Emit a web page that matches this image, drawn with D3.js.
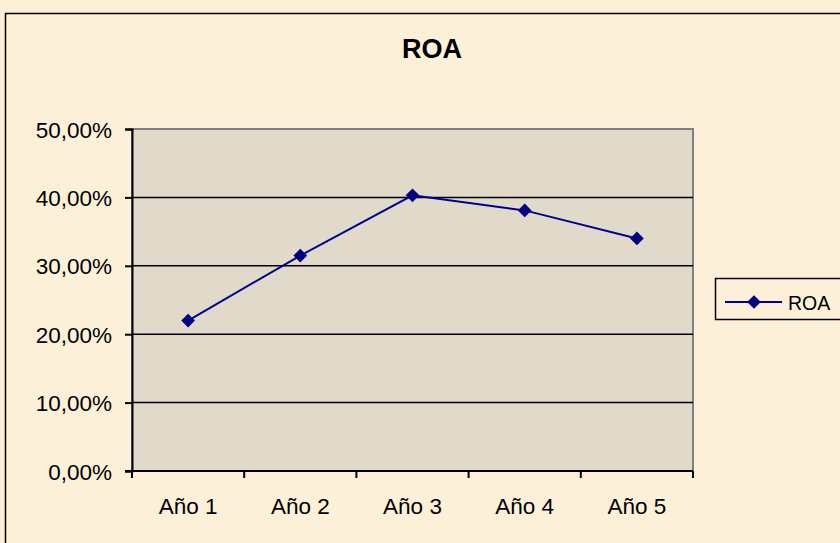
<!DOCTYPE html>
<html><head><meta charset="utf-8">
<script src="https://cdn.jsdelivr.net/npm/d3@7"></script>
<style>html,body{margin:0;padding:0;background:#FBEFD6;overflow:hidden}</style>
</head><body>
<svg id="c" width="840" height="543"></svg>
<script>
const categories = ["Año 1","Año 2","Año 3","Año 4","Año 5"];
const roaValues = [0.22, 0.315, 0.403, 0.381, 0.34];
const yTicks = [0, 0.1, 0.2, 0.3, 0.4, 0.5];
const seriesName = "ROA";
const titleText = "ROA";

const FONT = "Liberation Sans, Arial, sans-serif";
const svg = d3.select("#c");
const W = 840, H = 543;
svg.append("rect").attr("width",W).attr("height",H).attr("fill","#FBEFD6");
// chart area border
svg.append("rect").attr("x",5.5).attr("y",13.5).attr("width",900).attr("height",600)
  .attr("fill","#FCF0D8").attr("stroke","#000").attr("stroke-width",1.5);

const m = {l:132, t:129, r:693, b:471};
const x = d3.scaleBand().domain(categories).range([m.l, m.r]);
const y = d3.scaleLinear().domain([0,0.5]).range([m.b, m.t]);

// plot area
svg.append("rect").attr("x",m.l).attr("y",m.t).attr("width",m.r-m.l).attr("height",m.b-m.t)
  .attr("fill","#E1DACB").attr("stroke","#808080").attr("stroke-width",2);

// gridlines
svg.append("g").selectAll("line").data(yTicks.filter(d=>d>0 && d<0.5)).join("line")
  .attr("x1",m.l).attr("x2",m.r).attr("y1",d=>y(d)).attr("y2",d=>y(d))
  .attr("stroke","#000").attr("stroke-width",1.5);

const loc = d3.formatLocale({decimal:",", thousands:".", grouping:[3], currency:["","€"]});
const fmt = loc.format(".2%");

const yAxis = d3.axisLeft(y).tickValues(yTicks).tickFormat(fmt).tickSize(7).tickPadding(13);
const gy = svg.append("g").attr("transform",`translate(${m.l},0)`).call(yAxis);
gy.select(".domain").attr("stroke","#000").attr("stroke-width",2);
gy.selectAll(".tick line").attr("stroke","#000").attr("stroke-width",2);
gy.selectAll("text").attr("font-family",FONT).attr("font-size",22.5).attr("fill","#000").attr("dy","0.36em");

// x axis with ticks at band boundaries
const gx = svg.append("g").attr("transform",`translate(0,${m.b})`);
gx.append("line").attr("x1",m.l-7).attr("x2",m.r).attr("stroke","#000").attr("stroke-width",2);
const bounds = categories.map(c=>x(c)).concat([m.r]);
gx.selectAll("line.t").data(bounds).join("line").attr("class","t")
  .attr("x1",d=>d).attr("x2",d=>d).attr("y1",0).attr("y2",7).attr("stroke","#000").attr("stroke-width",2);
gx.selectAll("text").data(categories).join("text")
  .attr("x",d=>x(d)+x.bandwidth()/2).attr("y",43).attr("text-anchor","middle")
  .attr("font-family",FONT).attr("font-size",22.5).attr("fill","#000").text(d=>d);

// line
const pts = categories.map((c,i)=>[x(c)+x.bandwidth()/2, y(roaValues[i])]);
svg.append("path").attr("d",d3.line()(pts)).attr("fill","none").attr("stroke","#000090").attr("stroke-width",2);
const diamond = d3.symbol().type(d3.symbolDiamond2).size(120);
svg.append("g").selectAll("path").data(pts).join("path")
  .attr("transform",d=>`translate(${d[0]},${d[1]})`).attr("d",diamond).attr("fill","#000080");

// title
svg.append("text").attr("x",432).attr("y",58).attr("text-anchor","middle")
  .attr("font-family",FONT).attr("font-weight","bold").attr("font-size",27).text(titleText);

// legend
const lg = svg.append("g");
lg.append("rect").attr("x",715.5).attr("y",278.5).attr("width",140).attr("height",41)
  .attr("fill","#FCF0D8").attr("stroke","#000").attr("stroke-width",1.5);
lg.append("line").attr("x1",725).attr("x2",782).attr("y1",302).attr("y2",302).attr("stroke","#000090").attr("stroke-width",2);
lg.append("path").attr("transform","translate(754,302)").attr("d",diamond).attr("fill","#000080");
lg.append("text").attr("x",788).attr("y",310).attr("font-family",FONT)
  .attr("font-size",19.5).text(seriesName);
</script>
</body></html>
